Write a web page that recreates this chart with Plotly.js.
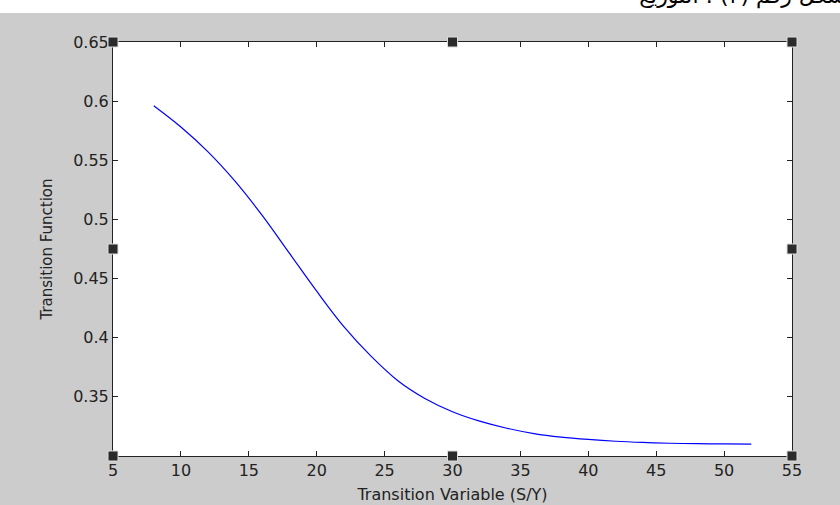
<!DOCTYPE html>
<html>
<head>
<meta charset="utf-8">
<script src="https://cdn.plot.ly/plotly-3.0.1.min.js"></script>
<style>
  html, body { margin: 0; padding: 0; background: #ffffff; }
  #wrap { position: relative; width: 840px; height: 505px; overflow: hidden; }
  #chart { position: absolute; left: 0; top: 0; width: 840px; height: 505px; }
  #strip { position: absolute; left: 0; top: 0; width: 840px; height: 13px; background: #ffffff; overflow: hidden; z-index: 5; }
  #strip span { position: absolute; right: -20px; top: -17px; font-family: "DejaVu Sans", sans-serif; font-size: 22px; color: #000; direction: rtl; white-space: nowrap; }
</style>
</head>
<body>
<div id="wrap">
  <div id="chart"></div>
  <div id="strip"><span>الشكل رقم (٣) : التوزيع</span></div>
</div>
<script>
// Data
const transitionVariable = [8, 10, 12, 14, 16, 18, 20, 22, 24, 26, 28, 30, 32, 34, 36, 38, 40, 42, 44, 46, 48, 50, 52];
const transitionFunction = [0.596, 0.578, 0.557, 0.532, 0.503, 0.471, 0.439, 0.409, 0.384, 0.363, 0.348, 0.337, 0.329, 0.323, 0.3185, 0.3155, 0.3135, 0.312, 0.311, 0.3103, 0.3099, 0.3097, 0.3096];
const xTicks = [5, 10, 15, 20, 25, 30, 35, 40, 45, 50, 55];
const yTicks = [0.35, 0.4, 0.45, 0.5, 0.55, 0.6, 0.65];
const yTickText = ["0.35", "0.4", "0.45", "0.5", "0.55", "0.6", "0.65"];
const xLabel = "Transition Variable (S/Y)";
const yLabel = "Transition Function";

const handles = [[0,0],[0.5,0],[1,0],[0,0.5],[1,0.5],[0,1],[0.5,1],[1,1]];
const shapes = handles.map(h => ({
  type: 'rect', xref: 'paper', yref: 'paper',
  xsizemode: 'pixel', ysizemode: 'pixel',
  xanchor: h[0], yanchor: h[1],
  x0: -5, x1: 5, y0: -5, y1: 5,
  fillcolor: '#2b2b2b', line: {color: '#dddddd', width: 1}, layer: 'above'
}));

const font = {family: '"DejaVu Sans", sans-serif', size: 16, color: '#222222'};

Plotly.newPlot('chart', [{
  x: transitionVariable,
  y: transitionFunction,
  type: 'scatter', mode: 'lines',
  line: {color: '#0000ff', width: 1.2, shape: 'spline', smoothing: 1},
  hoverinfo: 'skip'
}], {
  width: 840, height: 505,
  margin: {l: 113, r: 48, t: 42, b: 49, pad: 0},
  paper_bgcolor: '#cccccc',
  plot_bgcolor: '#ffffff',
  showlegend: false,
  font: font,
  xaxis: {
    range: [5, 55], tickvals: xTicks, ticktext: xTicks.map(String),
    ticks: 'inside', ticklen: 5, tickcolor: '#222', tickwidth: 1,
    showline: true, linecolor: '#222', linewidth: 1, mirror: 'ticks',
    showgrid: false, zeroline: false,
    tickfont: font,
    title: {text: xLabel, font: font, standoff: 9}
  },
  yaxis: {
    range: [0.2995, 0.65], tickvals: yTicks, ticktext: yTickText,
    ticks: 'inside', ticklen: 5, tickcolor: '#222', tickwidth: 1,
    showline: true, linecolor: '#222', linewidth: 1, mirror: 'ticks',
    showgrid: false, zeroline: false,
    tickfont: font,
    title: {text: yLabel, font: {family: font.family, size: 15, color: '#222222'}, standoff: 16}
  },
  shapes: shapes
}, {staticPlot: true});
</script>
</body>
</html>
